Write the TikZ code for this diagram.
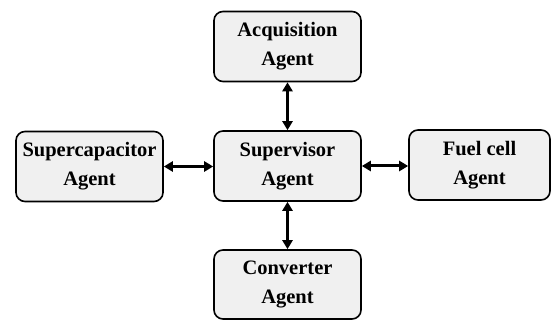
\documentclass[tikz,border=0pt]{standalone}
\usepackage{fontspec}
\setmainfont{Liberation Serif}
\usetikzlibrary{arrows.meta}
\begin{document}
\begin{tikzpicture}[x=1pt,y=1pt,
  agent/.style={draw=black, line width=1.6pt, rounded corners=9pt, fill=black!6,
    minimum width=147pt, minimum height=70pt, align=center, inner sep=0pt,
    font=\fontsize{20.5}{29}\selectfont\bfseries},
  link/.style={line width=3pt, {Triangle[length=9pt,width=10pt]}-{Triangle[length=9pt,width=10pt]}}]
\useasboundingbox (0,0) rectangle (551,-320);
\node[agent] (acq) at (287.5,-46.5) {Acquisition\\Agent};
\node[agent] (sup) at (287.5,-166) {Supervisor\\Agent};
\node[agent] (cap) at (89.5,-166.5) {Supercapacitor\\Agent};
\node[agent, minimum width=141pt] (fuel) at (479.5,-165) {Fuel cell\\Agent};
\node[agent, minimum height=69pt] (conv) at (287.5,-284.5) {Converter\\Agent};
\draw[link] (acq) -- (sup);
\draw[link] (sup) -- (conv);
\draw[link] (cap.east) -- (cap.east -| sup.west);
\draw[link] (sup.east) -- (sup.east -| fuel.west);
\end{tikzpicture}
\end{document}
